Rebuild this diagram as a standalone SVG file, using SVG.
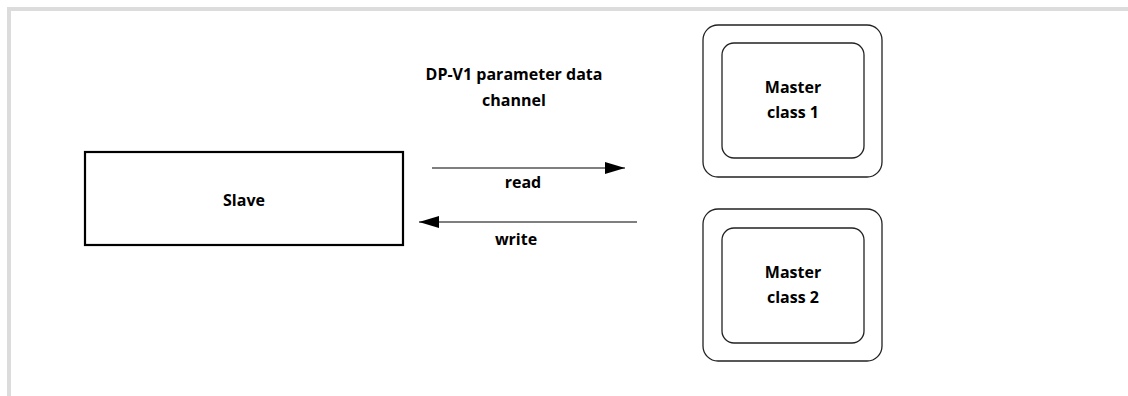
<svg xmlns="http://www.w3.org/2000/svg" width="1128" height="396" viewBox="0 0 1128 396">
<defs>
<style>
.frame{fill:none;stroke:#dcdcdc;stroke-width:4}
.box{fill:#fff;stroke:#000;stroke-width:2.2}
.outer{fill:#fff;stroke:#222;stroke-width:1.3}
.inner{fill:#fff;stroke:#222;stroke-width:1.3}
.lbl{font-family:"Open Sans","Liberation Sans",sans-serif;font-weight:bold;font-size:16px;fill:#000;text-anchor:middle}
.conn{stroke:#000;stroke-width:1.2;fill:none}
</style>
<marker id="ah" viewBox="0 0 20 12" refX="20" refY="6" markerWidth="20" markerHeight="12" markerUnits="userSpaceOnUse" orient="auto">
<path d="M0,0 L20,6 L0,12 Z" fill="#000"/>
</marker>
</defs>
<rect width="1128" height="396" fill="#fff"/>
<path class="frame" d="M9,396 V9 H1128"/>
<g id="slave">
<rect class="box" x="85" y="152" width="318" height="93"/>
<text class="lbl" x="244" y="206">Slave</text>
</g>
<g id="master1">
<rect class="outer" x="703" y="25" width="179" height="152" rx="15"/>
<rect class="inner" x="722" y="43" width="142" height="115" rx="12"/>
<text class="lbl" x="793" y="93">Master</text>
<text class="lbl" x="793" y="118">class 1</text>
</g>
<g id="master2">
<rect class="outer" x="703" y="209" width="179" height="152" rx="15"/>
<rect class="inner" x="722" y="228" width="142" height="115" rx="12"/>
<text class="lbl" x="793" y="278">Master</text>
<text class="lbl" x="793" y="303">class 2</text>
</g>
<g id="channel-title">
<text class="lbl" x="514" y="80">DP-V1 parameter data</text>
<text class="lbl" x="514" y="106">channel</text>
</g>
<g id="connectors">
<line class="conn" x1="432" y1="168" x2="625" y2="168" marker-end="url(#ah)"/>
<text class="lbl" x="523" y="188">read</text>
<line class="conn" x1="637" y1="222" x2="419" y2="222" marker-end="url(#ah)"/>
<text class="lbl" x="516" y="245">write</text>
</g>
</svg>
